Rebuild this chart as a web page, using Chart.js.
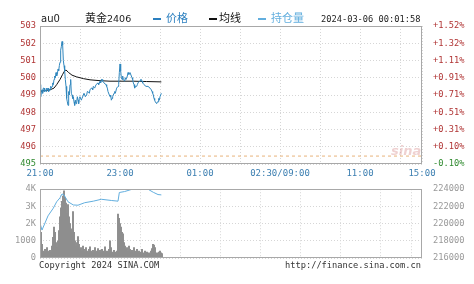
<!DOCTYPE html>
<html><head><meta charset="utf-8">
<script src="https://cdn.jsdelivr.net/npm/chart.js@4.4.0/dist/chart.umd.min.js"></script>
<style>
html,body{margin:0;padding:0;background:#fff;width:474px;height:284px;overflow:hidden;position:relative;}
canvas{position:absolute;left:0;}
.t{position:absolute;white-space:nowrap;line-height:1;}
.mono{font-family:"DejaVu Sans Mono",monospace;font-size:8.7px;color:#333;}
.cjk{font-family:"Noto Sans CJK SC",sans-serif;font-size:11px;}
.dash{position:absolute;height:2px;width:8px;}
</style></head>
<body>
<canvas id="top" width="474" height="182" style="top:0"></canvas>
<canvas id="vol" width="474" height="90" style="top:180px"></canvas>
<div class="t" style="left:41px;top:14px;font-family:'DejaVu Sans',sans-serif;font-size:10px;color:#222;">au0</div>
<div class="t cjk" style="left:85px;top:12px;color:#222;">黄金<span style="font-family:'DejaVu Sans',sans-serif;font-size:9.5px;">2406</span></div>
<div class="dash" style="left:153px;top:18px;background:#2b7fbf;"></div>
<div class="t cjk" style="left:166px;top:12px;color:#2b7fbf;">价格</div>
<div class="dash" style="left:209px;top:18px;background:#111;"></div>
<div class="t cjk" style="left:219px;top:12px;color:#111;">均线</div>
<div class="dash" style="left:258px;top:18px;background:#62aede;"></div>
<div class="t cjk" style="left:271px;top:12px;color:#62aede;">持仓量</div>
<div class="t mono" style="left:321px;top:15px;color:#222;">2024-03-06 00:01:58</div>
<div class="t" style="left:391px;top:144px;font-family:'DejaVu Sans',sans-serif;font-style:italic;font-weight:bold;font-size:13px;color:rgba(215,140,140,0.4);">sina</div>
<div class="t mono" style="left:39px;top:261px;">Copyright 2024 SINA.COM</div>
<div class="t mono" style="left:285px;top:261px;">http://finance.sina.com.cn</div>
<script>
// ---- data ----
const timeTickValues = [0,60,120,180,240,300,360,420,480,540,573];
const timeLabels = ['21:00','','23:00','','01:00','','02:30/09:00','','11:00','','15:00'];
const priceTickValues = [495,496,497,498,499,500,501,502,503];
const priceLabels = ['495','496','497','498','499','500','501','502','503'];
const pctLabels = ['-0.10%','+0.10%','+0.31%','+0.51%','+0.71%','+0.91%','+1.11%','+1.32%','+1.52%'];
const prevSettle = 495.46;

// minutes after 21:00
const priceTimes = [0,1,2,3,4,5,6,7,8,9,10,11,12,13,14,15,16,17,18,19,20,21,22,23,24,25,26,27,28,29,30,31,32,33,34,35,36,37,38,39,40,41,42,43,44,45,46,47,48,49,50,51,52,53,54,55,56,57,58,59,60,62,63,65,66,68,70,71,72,74,75,77,78,79,80,82,84,85,87,88,90,91,92,93,94,96,97,99,100,101,102,104,105,106,107,108,109,111,112,113,115,117,118,119,120,121,122,123,124,125,127,128,129,131,132,133,134,135,136,137,138,139,140,141,142,143,145,146,147,149,150,151,152,153,154,156,157,159,160,162,163,165,166,167,168,169,170,171,172,173,175,176,177,178,179,180,181,182];
const priceValues = [499.6,498.9,499.2,499.3,499.1,499.4,499.4,499.2,499.3,499.2,499.4,499.3,499.4,499.2,499.3,499.3,499.5,499.4,499.5,499.7,499.6,499.9,500.1,500.0,500.3,500.1,500.2,500.5,500.4,500.7,500.9,501.6,501.8,502.1,501.9,501.0,500.7,500.4,499.9,499.5,498.8,498.6,498.4,499.2,499.0,499.6,499.9,499.1,499.0,498.8,498.9,498.6,498.4,498.7,498.5,498.6,498.9,498.7,498.5,498.8,498.9,498.7,498.8,499.0,499.1,498.9,499.0,499.2,499.2,499.1,499.3,499.4,499.4,499.3,499.5,499.4,499.6,499.6,499.7,499.6,499.8,499.7,499.9,499.9,499.8,499.7,499.7,499.6,499.5,499.4,499.2,499.0,498.9,499.0,498.7,498.8,498.9,499.1,499.2,499.1,499.4,499.5,499.6,500.3,500.8,500.4,500.0,499.9,500.1,499.9,499.8,500.0,499.9,500.1,500.3,500.2,500.2,500.3,500.3,500.1,500.0,499.9,499.7,499.6,499.4,499.5,499.5,499.6,499.7,499.8,499.8,499.9,499.9,499.8,499.7,499.6,499.6,499.5,499.5,499.5,499.5,499.4,499.4,499.3,499.2,499.1,499.0,498.8,498.7,498.6,498.5,498.6,498.6,498.8,498.7,498.9,498.9,499.1];

const avgTimes = [0,6,15,21,25,30,34,37,39,43,48,55,65,75,90,105,120,140,160,182];
const avgValues = [499.2,499.25,499.3,499.4,499.6,499.9,500.2,500.4,500.45,500.3,500.15,500.05,499.95,499.88,499.83,499.8,499.8,499.8,499.78,499.76];

const oiTimes = [0,3,12,20,25,30,33,36,42,50,57,67,80,92,107,117,119,127,137,162,170,177,182];
const oiValues = [220050,219250,220900,221800,222540,223000,223450,223340,222540,222170,222140,222430,222610,222830,222690,222610,223620,223730,223970,224000,223640,223380,223340];

// volume, one bar every 1.5 minutes from 21:00
const volumes = [1900,1500,800,400,300,500,350,600,300,400,450,350,700,1200,1800,1500,900,600,1000,1600,2400,2900,3300,3600,3900,3500,3200,2600,3100,2400,2000,1700,1500,2700,1500,1000,700,900,1250,800,500,600,400,700,500,350,600,400,300,500,650,400,300,450,350,600,300,400,550,350,450,300,500,400,300,650,350,400,300,500,1000,600,350,300,450,350,300,400,2550,2300,2000,1800,1500,1400,900,700,500,600,400,700,500,350,450,300,600,400,350,500,300,400,250,350,500,300,250,400,300,350,250,300,200,400,550,800,750,600,300,250,300,350,400,300,250];
const volTickValues = [0,1000,2000,3000,4000];
const volLabels = ['0','1000','2K','3K','4K'];
const oiTickValues = [216000,218000,220000,222000,224000];
const oiLabels = ['216000','218000','220000','222000','224000'];

// ---- chart helpers ----
const monoFont = {family:'DejaVu Sans Mono', size:8.7};
const frame = {
  id:'frame',
  afterDraw(c){
    const a=c.chartArea, ctx=c.ctx;
    ctx.save(); ctx.strokeStyle='#a8a8a8'; ctx.lineWidth=1;
    ctx.strokeRect(Math.round(a.left)+0.5, Math.round(a.top)+0.5, Math.round(a.right-a.left)-1, Math.round(a.bottom-a.top)-1);
    ctx.restore();
  }
};
const gridOpts = {color:'#d6d6d6', drawTicks:false, lineWidth:1};
const xScale = (showLabels, h) => ({
  type:'linear', min:0, max:573,
  afterBuildTicks: s => { s.ticks = timeTickValues.map(v=>({value:v})); },
  afterFit: s => { s.height = h; },
  ticks:{display:showLabels, autoSkip:false, maxRotation:0, padding:4, color:'#3c7fb1', font:{family:'DejaVu Sans Mono', size:9}, callback:(v,i)=>timeLabels[i]},
  grid: gridOpts, border:{display:false, dash:[1,2]}
});
Chart.defaults.animation = false;

new Chart(document.getElementById('top'), {
  type:'line',
  data:{datasets:[
    {data: priceTimes.map((t,i)=>({x:t,y:priceValues[i]})), borderColor:'#2f86bd', borderWidth:1, pointRadius:0, tension:0, yAxisID:'y'},
    {data: avgTimes.map((t,i)=>({x:t,y:avgValues[i]})), borderColor:'#111', borderWidth:1, pointRadius:0, tension:0, yAxisID:'y'},
    {data: [{x:0,y:prevSettle},{x:573,y:prevSettle}], borderColor:'#e8b47c', borderDash:[3,3], borderWidth:1, pointRadius:0, yAxisID:'y'}
  ]},
  options:{
    responsive:false, events:[],
    layout:{padding:{top:26,left:0,right:0,bottom:0}},
    plugins:{legend:{display:false}, tooltip:{enabled:false}},
    scales:{
      x: xScale(true, 18),
      y:{position:'left', min:495, max:503,
        afterBuildTicks: s => { s.ticks = priceTickValues.map(v=>({value:v})); },
        afterFit: s => { s.width = 40; },
        ticks:{padding:4, font:monoFont, callback:(v,i)=>priceLabels[i], color: ctx => priceTickValues[ctx.index] < prevSettle ? '#2f8a2f' : '#b03434'},
        grid: gridOpts, border:{display:false, dash:[1,2]}},
      y2:{position:'right', min:495, max:503,
        afterBuildTicks: s => { s.ticks = priceTickValues.map(v=>({value:v})); },
        afterFit: s => { s.width = 52; },
        ticks:{padding:3, font:monoFont, callback:(v,i)=>pctLabels[i], color: ctx => priceTickValues[ctx.index] < prevSettle ? '#2f8a2f' : '#b03434'},
        grid:{display:false}, border:{display:false}}
    }
  },
  plugins:[frame]
});

new Chart(document.getElementById('vol'), {
  type:'bar',
  data:{datasets:[
    {type:'line', data: oiTimes.map((t,i)=>({x:t,y:oiValues[i]})), borderColor:'#62aede', borderWidth:1, pointRadius:0, tension:0, yAxisID:'y2', order:0},
    {type:'bar', data: volumes.map((v,i)=>({x:i*1.5,y:v})), backgroundColor:'#8e8e8e', barThickness:1.3, yAxisID:'y', order:1}
  ]},
  options:{
    responsive:false, events:[],
    layout:{padding:{top:5,left:0,right:0,bottom:12}},
    plugins:{legend:{display:false}, tooltip:{enabled:false}},
    scales:{
      x: Object.assign(xScale(false, 0), {offset:false}),
      y:{position:'left', min:0, max:4000,
        afterBuildTicks: s => { s.ticks = volTickValues.map(v=>({value:v})); },
        afterFit: s => { s.width = 40; },
        ticks:{padding:4, font:monoFont, color:'#999', callback:(v,i)=>volLabels[i]},
        grid: gridOpts, border:{display:false, dash:[1,2]}},
      y2:{position:'right', min:216000, max:224000,
        afterBuildTicks: s => { s.ticks = oiTickValues.map(v=>({value:v})); },
        afterFit: s => { s.width = 52; },
        ticks:{padding:3, font:monoFont, color:'#999', callback:(v,i)=>oiLabels[i]},
        grid:{display:false}, border:{display:false}}
    }
  },
  plugins:[frame]
});
</script>
</body></html>
